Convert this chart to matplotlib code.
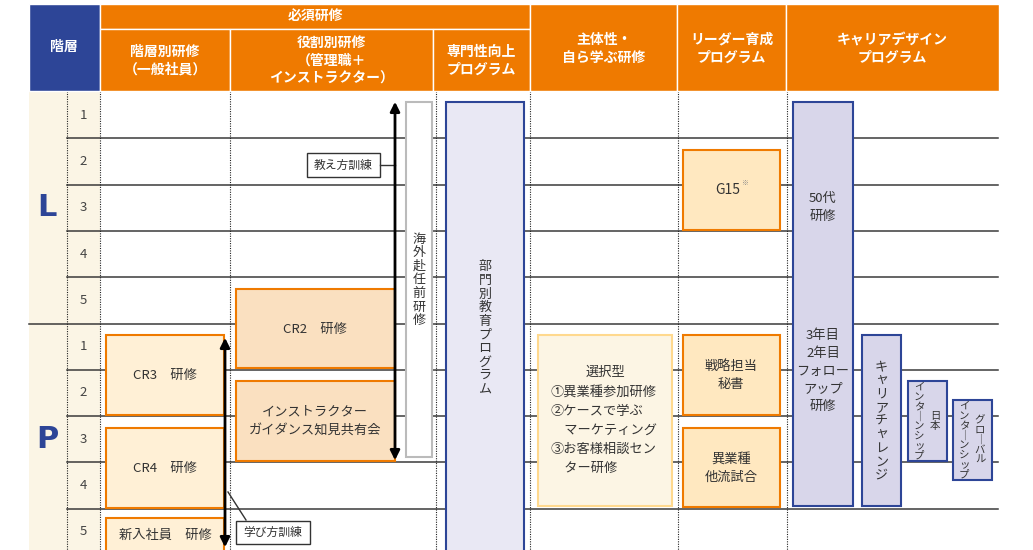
import matplotlib
matplotlib.use("Agg")
import matplotlib.pyplot as plt
from matplotlib.patches import Rectangle

plt.rcParams['font.family'] = ['Noto Sans CJK JP', 'DejaVu Sans']

# ---- data ----
level_names = ['L', 'P']
row_numbers = [1, 2, 3, 4, 5]
header_level = '階層'
header_required = '必須研修'
header_sub = ['階層別研修\n（一般社員）', '役割別研修\n（管理職＋\nインストラクター）', '専門性向上\nプログラム']
header_main = ['主体性・\n自ら学ぶ研修', 'リーダー育成\nプログラム', 'キャリアデザイン\nプログラム']
txt_cr = ['CR2　研修', 'インストラクター\nガイダンス知見共有会', 'CR3　研修', 'CR4　研修', '新入社員　研修']
txt_teach = '教え方訓練'
txt_learn = '学び方訓練'
txt_abroad = '海外赴任前研修'
txt_dept = '部門別教育プログラム'
txt_select_title = '選択型'
txt_select = ['①異業種参加研修', '②ケースで学ぶ', '　マーケティング', '③お客様相談セン', '　ター研修']
txt_leader = ['G15', '戦略担当\n秘書', '異業種\n他流試合']
txt_50 = '50代\n研修'
txt_follow = '3年目\n2年目\nフォロー\nアップ\n研修'
txt_challenge = 'キャリアチャレンジ'
txt_intern = [('日本', 'インターンシップ'), ('グローバル', 'インターンシップ')]

ORANGE = '#ef7a00'
BLUE = '#2d4597'
TXT = '#333333'

fig = plt.figure(figsize=(10.33, 5.5), dpi=100)
ax = fig.add_axes([0, 0, 1, 1])
ax.set_xlim(0, 1033)
ax.set_ylim(550, 0)
ax.axis('off')


def box(x0, y0, x1, y1, fc, ec, lw=1.5, z=3):
    ax.add_patch(Rectangle((x0, y0), x1 - x0, y1 - y0, facecolor=fc, edgecolor=ec, lw=lw, zorder=z))


def vtext(x, y, s, size=9.4, ls=1.06):
    s = s.replace('ー', '｜')
    ax.text(x, y, '\n'.join(s), ha='center', va='center', fontsize=size,
            color=TXT, linespacing=ls, zorder=6)


# ---- header ----
box(29, 4, 100, 91, BLUE, 'white', 1, 2)
ax.text(64, 47, header_level, ha='center', va='center', color='white', fontsize=10, fontweight='bold')
box(100, 4, 530, 29, ORANGE, 'white', 1, 2)
ax.text(315, 16, header_required, ha='center', va='center', color='white', fontsize=10, fontweight='bold')
for (x0, x1), t in zip([(100, 230), (230, 433), (433, 530)], header_sub):
    box(x0, 29, x1, 91, ORANGE, 'white', 1, 2)
    ax.text((x0 + x1) / 2, 61, t, ha='center', va='center', color='white', fontsize=10,
            fontweight='bold', linespacing=1.35)
for (x0, x1), t in zip([(530, 677), (677, 786), (786, 999)], header_main):
    box(x0, 4, x1, 91, ORANGE, 'white', 1, 2)
    ax.text((x0 + x1) / 2, 49, t, ha='center', va='center', color='white', fontsize=10,
            fontweight='bold', linespacing=1.4)

# ---- grid ----
top = 92
rh = 46.3
ax.add_patch(Rectangle((29, 91), 71, 460, facecolor='#fbf5e5', edgecolor='none', zorder=0))
for i in range(1, 11):
    y = top + i * rh
    x0 = 29 if i == 5 else 67
    ax.plot([x0, 998], [y, y], color='#3a3a3a', lw=1.1, zorder=1)
for x in [67, 100, 230, 436, 530, 678, 787]:
    ax.plot([x, x], [91, 550], color='#222222', lw=0.8, ls=(0, (1, 1.2)), zorder=1)
for k, lv in enumerate(level_names):
    ax.text(47, top + (k * 5 + 2.5) * rh, lv, ha='center', va='center', color=BLUE,
            fontsize=22, fontweight='bold', family='DejaVu Sans')
    for j, n in enumerate(row_numbers):
        ax.text(83, top + (k * 5 + j + 0.5) * rh, str(n), ha='center', va='center',
                color='#444444', fontsize=9.5)

# ---- role training ----
box(236, 289, 395, 368, '#fae0c0', ORANGE)
ax.text(315, 329, txt_cr[0], ha='center', va='center', fontsize=9.5, color=TXT, zorder=6)
box(236, 381, 395, 461, '#fae0c0', ORANGE)
ax.text(315, 421, txt_cr[1], ha='center', va='center', fontsize=9.5, color=TXT, linespacing=1.6, zorder=6)
ax.annotate('', xy=(395, 99), xytext=(395, 463),
            arrowprops=dict(arrowstyle='<|-|>', lw=2, color='black', mutation_scale=14), zorder=7)
box(307, 153, 380, 177, 'white', '#333333', 1, 4)
ax.text(343.5, 165, txt_teach, ha='center', va='center', fontsize=8.5, color=TXT, zorder=6)
ax.plot([380, 395], [165, 165], color='#333333', lw=1, zorder=4)

box(406, 102, 432, 457, 'white', '#bbbbbb', 1.5)
vtext(419, 280, txt_abroad)

# ---- level training ----
for (y0, y1), t in zip([(335, 415), (428, 508), (518, 560)], txt_cr[2:]):
    box(106, y0, 224, y1, '#fff0d6', ORANGE)
    ax.text(165, (y0 + y1) / 2 if y1 < 550 else 535, t, ha='center', va='center',
            fontsize=9.5, color=TXT, zorder=6)
ax.annotate('', xy=(225, 335), xytext=(225, 550),
            arrowprops=dict(arrowstyle='<|-|>', lw=2, color='black', mutation_scale=14), zorder=7)
ax.plot([228, 246], [492, 520], color='#333333', lw=1, zorder=4)
box(236, 521, 310, 544, 'white', '#333333', 1, 4)
ax.text(273, 532.5, txt_learn, ha='center', va='center', fontsize=8.5, color=TXT, zorder=6)

# ---- department program ----
box(446, 102, 524, 570, '#e9e8f4', BLUE, 1.5)
vtext(485, 328, txt_dept)

# ---- self-driven ----
box(538, 335, 672, 506, '#fcf5e4', '#ffd98e', 1.5)
ax.text(605, 372, txt_select_title, ha='center', va='center', fontsize=9.5, color=TXT, zorder=6)
for i, line in enumerate(txt_select):
    ax.text(551, 392 + i * 19.2, line, ha='left', va='center', fontsize=9.5, color=TXT, zorder=6)

# ---- leader ----
box(683, 150, 780, 230, '#ffe8c0', ORANGE)
ax.text(728, 190, txt_leader[0], ha='center', va='center', fontsize=10, color=TXT, zorder=6)
ax.text(745, 183, '※', ha='center', va='center', fontsize=5, color='#888888', zorder=6)
box(683, 335, 780, 415, '#ffe8c0', ORANGE)
ax.text(731, 375, txt_leader[1], ha='center', va='center', fontsize=9.5, color=TXT, linespacing=1.5, zorder=6)
box(683, 428, 780, 507, '#ffe8c0', ORANGE)
ax.text(731, 468, txt_leader[2], ha='center', va='center', fontsize=9.5, color=TXT, linespacing=1.5, zorder=6)

# ---- career design ----
box(793, 102, 853, 506, '#d8d6ea', BLUE, 1.5)
ax.text(823, 207, txt_50, ha='center', va='center', fontsize=9.5, color=TXT, linespacing=1.5, zorder=6)
ax.text(823, 371, txt_follow, ha='center', va='center', fontsize=9.5, color=TXT, linespacing=1.45, zorder=6)
box(862, 335, 901, 506, '#d8d6ea', BLUE, 1.5)
vtext(881.5, 421, txt_challenge)
for (x0, y0, x1, y1), (a, b) in zip([(908, 381, 947, 461), (953, 400, 992, 480)], txt_intern):
    box(x0, y0, x1, y1, '#d8d6ea', BLUE, 1.5)
    yc = (y0 + y1) / 2
    vtext(x0 + 11, yc, b, size=7.5, ls=0.97)
    vtext(x1 - 12, yc, a, size=7.5, ls=0.97)

fig.savefig('out.png', dpi=100)
